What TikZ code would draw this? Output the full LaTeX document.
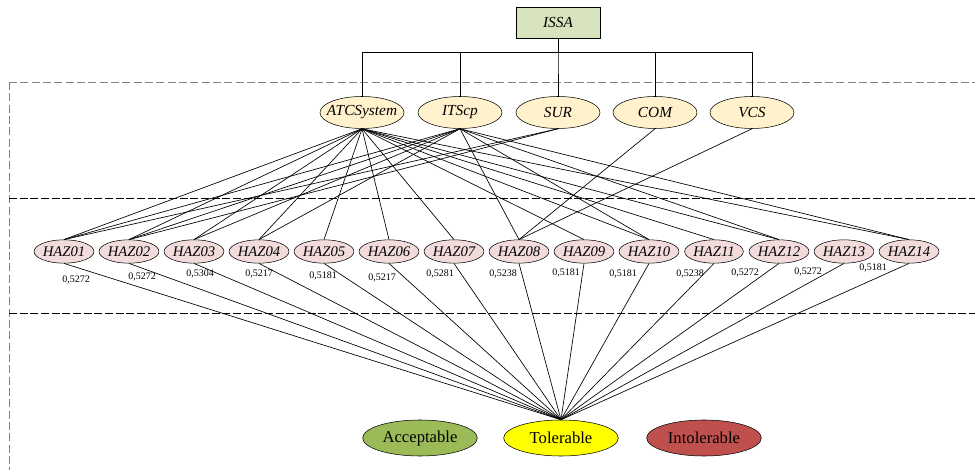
\documentclass[tikz,border=0pt]{standalone}
\usepackage{fontspec}
\setmainfont{Liberation Serif}
\usetikzlibrary{shapes.geometric}
\definecolor{issagreen}{HTML}{D7E4BD}
\definecolor{subyellow}{HTML}{FFF2CC}
\definecolor{hazpink}{HTML}{F2DCDB}
\definecolor{accgreen}{HTML}{9BBB59}
\definecolor{tolyellow}{HTML}{FFFF00}
\definecolor{intred}{HTML}{C0504D}
\begin{document}
\begin{tikzpicture}[x=0.75pt,y=-0.75pt,
  rootbox/.style={draw=black, fill=issagreen, minimum width=63pt, minimum height=23pt, inner sep=0pt, font=\itshape\fontsize{11.5}{13}\selectfont},
  subnode/.style={ellipse, draw=black, fill=subyellow, minimum width=63pt, minimum height=24pt, inner ysep=0pt, inner xsep=-5pt, font=\itshape\fontsize{11.5}{13}\selectfont},
  haznode/.style={ellipse, draw=black, fill=hazpink, minimum width=44pt, minimum height=17.5pt, inner sep=0pt, font=\itshape\fontsize{11}{12}\selectfont},
  risknode/.style={ellipse, draw=black, minimum width=86pt, minimum height=27pt, inner sep=0pt, font=\fontsize{12.5}{14}\selectfont},
  tree/.style={draw=black, line width=0.7pt},
  link/.style={draw=black, line width=0.5pt},
  weight/.style={font=\fontsize{7.5}{9}\selectfont, inner sep=0pt},
  zonegray/.style={draw=gray, dash pattern=on 6pt off 2.5pt, line width=0.6pt},
  zoneblack/.style={draw=black, dash pattern=on 6pt off 2pt, line width=0.6pt}
]
\useasboundingbox (0,0) rectangle (975,470);

% zone separators
\draw[zonegray] (9,82) -- (975,82);
\draw[zonegray] (9,82) -- (9,470);
\draw[zoneblack] (9,198) -- (975,198);
\draw[zoneblack] (9,313) -- (975,313);

% root
\node[rootbox] (issa) at (558,23) {ISSA};

% subsystems
\node[subnode] (atc) at (362,112.5) {ATCSystem};
\node[subnode] (itscp) at (460,112.5) {ITScp};
\node[subnode] (sur) at (558,112.5) {SUR};
\node[subnode] (com) at (655,112.5) {COM};
\node[subnode] (vcs) at (752,112.5) {VCS};

\foreach \n in {atc,itscp,sur,com,vcs}
  \draw[tree] (issa.south) -- ++(0,14) -| (\n.north);

% hazards
\foreach \i/\x in {01/64,02/129,03/194,04/259,05/324,06/389,07/454,08/519,09/584,10/649,11/714,12/779,13/844,14/909}
  \node[haznode] (h\i) at (\x,251.5) {HAZ\i};

% risk classes
\node[risknode, fill=accgreen] (acc) at (420,438) {Acceptable};
\node[risknode, fill=tolyellow] (tol) at (561,438) {Tolerable};
\node[risknode, fill=intred] (intol) at (704,438) {Intolerable};

% subsystem -> hazard links
\foreach \h in {01,02,03,04,05,06,07,09,10,11,12,14}
  \draw[link] (atc.south) -- (h\h.north);
\foreach \h in {01,02,03,04,08,10,12,14}
  \draw[link] (itscp.south) -- (h\h.north);
\foreach \h in {01,02}
  \draw[link] (sur.south) -- (h\h.north);
\draw[link] (com.south) -- (h08.north);
\draw[link] (vcs.south) -- (h08.north);

% hazard -> risk links
\foreach \h in {01,02,03,04,05,06,07,08,09,10,11,12,13,14}
  \draw[link] (h\h.south) -- (tol.north);

% weights
\node[weight] (w01) at (76,280) {0,5272};
\node[weight] (w02) at (142,277) {0,5272};
\node[weight] (w03) at (200,274) {0,5304};
\node[weight] (w04) at (259,274) {0,5217};
\node[weight] (w05) at (323,276) {0,5181};
\node[weight] (w06) at (382,278) {0,5217};
\node[weight] (w07) at (440,274) {0,5281};
\node[weight] (w08) at (503,274) {0,5238};
\node[weight] (w09) at (566,273) {0,5181};
\node[weight] (w10) at (623,274) {0,5181};
\node[weight] (w11) at (690,274) {0,5238};
\node[weight] (w12) at (745,273) {0,5272};
\node[weight] (w13) at (808,272) {0,5272};
\node[weight] (w14) at (873,268) {0,5181};
\end{tikzpicture}
\end{document}
